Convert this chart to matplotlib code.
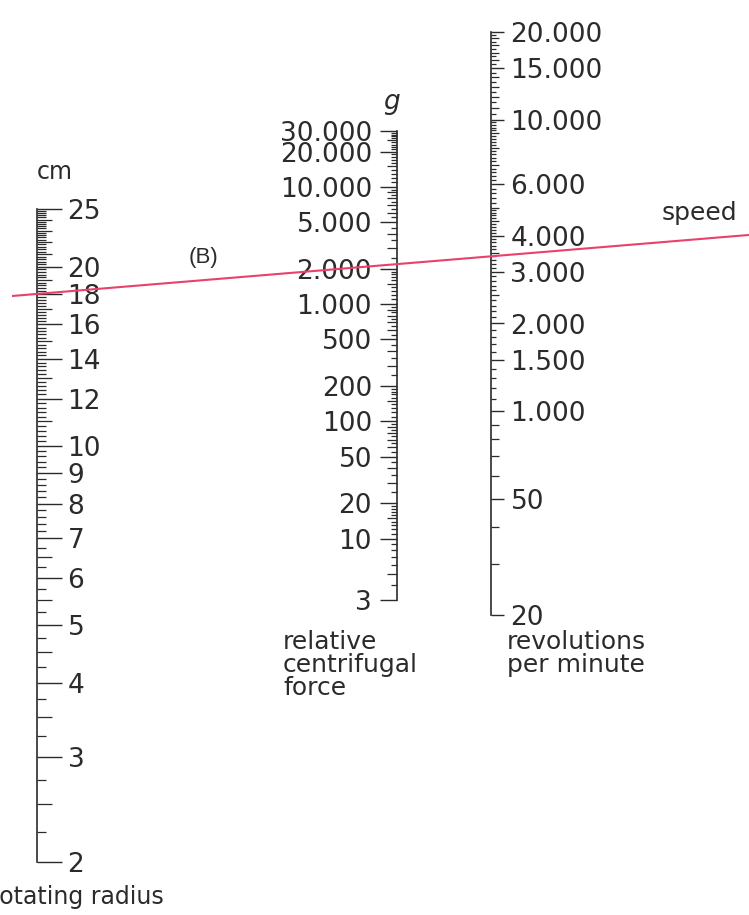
import numpy as np
import matplotlib
matplotlib.use("Agg")
from matplotlib import pyplot as plt
from matplotlib.ticker import FixedLocator, FixedFormatter, NullFormatter, NullLocator

# labelled values on the three scales
radius_labels = [2, 3, 4, 5, 6, 7, 8, 9, 10, 12, 14, 16, 18, 20, 25]
rcf_labels = [3, 10, 20, 50, 100, 200, 500, 1000, 2000, 5000, 10000, 20000, 30000]
rpm_values = [200, 500, 1000, 1500, 2000, 3000, 4000, 6000, 10000, 15000, 20000]
rpm_text = ["20", "50", "1.000", "1.500", "2.000", "3.000", "4.000",
            "6.000", "10.000", "15.000", "20.000"]

# graduations: (start, stop, step, longer tick every)
radius_grad = [(2, 7, 0.25, 0.5), (7, 10, 0.2, 1), (10, 25, 0.2, 1)]
rcf_grad = [(3, 10, 1, 5), (10, 20, 1, 5), (20, 100, 5, 10), (100, 200, 10, 50),
            (200, 1000, 50, 100), (1000, 2000, 100, 500), (2000, 10000, 500, 1000),
            (10000, 30000, 1000, 5000)]
rpm_grad = [(200, 500, 100, 100), (500, 1000, 100, 100), (1000, 2000, 100, 500),
            (2000, 5000, 100, 500), (5000, 10000, 200, 1000), (10000, 20000, 500, 1000)]

# example reading drawn across the chart
example_radius = 18
example_rpm = 3400

W, H = 749, 915
ink = "#2b2b2b"
plt.rcParams["font.family"] = ["DejaVu Sans"]
plt.rcParams["text.color"] = ink

fig = plt.figure(figsize=(W / 100, H / 100), dpi=100)


def graduations(steps, skip):
    short, medium = [], []
    for a, b, s, m in steps:
        for v in np.arange(a, b + s / 2, s):
            v = round(float(v), 3)
            if any(abs(v - k) < 1e-6 for k in skip):
                continue
            if abs(v / m - round(v / m)) < 1e-6:
                medium.append(v)
            else:
                short.append(v)
    return sorted(set(short)), sorted(set(medium))


def fmt(v):
    return "{:,}".format(v).replace(",", ".")


def scale_axes(x, top, bottom, lo, hi, side, labels, texts, grad, lengths, pad):
    w = 0.5 / W
    left = x / W - (w if side == "right" else 0)
    ax = fig.add_axes([left, 1 - bottom / H, w, (bottom - top) / H])
    short, medium = graduations(grad, labels)
    axes_pair = [ax, ax.twinx()]
    for a in axes_pair:
        a.set_yscale("log")
        a.set_ylim(lo, hi)
        a.set_xlim(0, 1)
        a.patch.set_alpha(0)
        a.xaxis.set_visible(False)
        for s in a.spines.values():
            s.set_visible(False)
        if side == "right":
            a.yaxis.tick_right()
        else:
            a.yaxis.tick_left()
    ax.spines[side].set_visible(True)
    ax.spines[side].set_linewidth(1.2)
    ax.spines[side].set_color(ink)
    ax.yaxis.set_major_locator(FixedLocator(labels))
    ax.yaxis.set_major_formatter(FixedFormatter(texts))
    ax.yaxis.set_minor_locator(FixedLocator(short))
    ax.yaxis.set_minor_formatter(NullFormatter())
    ax.tick_params(which="major", direction="out", length=lengths[0], width=1.0,
                   color=ink, labelsize=19, labelcolor=ink, pad=pad)
    ax.tick_params(which="minor", direction="out", length=lengths[2], width=0.9, color=ink)
    tw = axes_pair[1]
    tw.yaxis.set_major_locator(FixedLocator(medium))
    tw.yaxis.set_major_formatter(NullFormatter())
    tw.yaxis.set_minor_locator(NullLocator())
    tw.tick_params(which="major", direction="out", length=lengths[1], width=0.9, color=ink)
    return ax


ax_r = scale_axes(37, 209, 862, 2, 25, "right", radius_labels,
                  [str(v) for v in radius_labels], radius_grad, (18, 11, 6.5), 4)
ax_f = scale_axes(397, 131, 600, 3, 30000, "left", rcf_labels,
                  [fmt(v) for v in rcf_labels], rcf_grad, (12, 7, 4), 6)
ax_n = scale_axes(491, 32, 615, 200, 20000, "right", rpm_values,
                  rpm_text, rpm_grad, (9, 6, 3.5), 5)

# overlay in pixel coordinates for the reading line and captions
ov = fig.add_axes([0, 0, 1, 1], zorder=5)
ov.set_xlim(0, W)
ov.set_ylim(H, 0)
ov.axis("off")
ov.patch.set_alpha(0)

p = np.array([ax_r.transData.transform((1, example_radius)),
              ax_n.transData.transform((1, example_rpm))])
p = ov.transData.inverted().transform(p)
slope = (p[1, 1] - p[0, 1]) / (p[1, 0] - p[0, 0])
xs = np.array([12, W])
ov.plot(xs, p[0, 1] + slope * (xs - p[0, 0]), color="#e8416b", lw=1.5, solid_capstyle="butt")

ov.text(37, 172, "cm", fontsize=17, va="center")
ov.text(392, 102, "g", fontsize=19, style="italic", ha="center", va="center")
ov.text(203, 257, "(B)", fontsize=16, family="Liberation Sans", ha="center", va="center")
ov.text(662, 213, "speed", fontsize=18, va="center")
ov.text(283, 630, "relative\ncentrifugal\nforce", fontsize=18, va="top", linespacing=0.95)
ov.text(507, 630, "revolutions\nper minute", fontsize=18, va="top", linespacing=0.95)
ov.text(-10, 897, "rotating radius", fontsize=17, va="center")

fig.savefig("out.png", dpi=100)
